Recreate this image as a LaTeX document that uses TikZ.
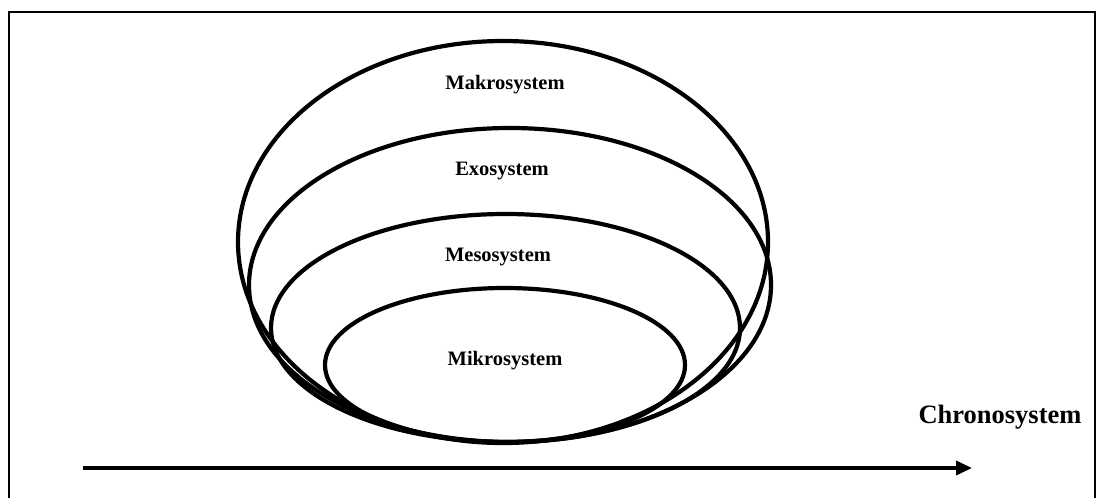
\documentclass[tikz,border=0pt]{standalone}
\usepackage{fontspec}
\setmainfont{Liberation Serif}
\usetikzlibrary{arrows.meta}
\begin{document}
\begin{tikzpicture}[x=1pt,y=-1pt,
  ring/.style={draw=black,line width=4.2pt},
  lbl/.style={font=\fontsize{20.5}{24}\selectfont\bfseries,inner sep=0pt},
  frame/.style={draw=black,line width=2.2pt}]
\useasboundingbox (0,0) rectangle (1099,498);
\fill[white] (0,0) rectangle (1099,498);
\draw[frame] (9,498) -- (9,12) -- (1095,12) -- (1095,498);
% ellipses
\draw[ring] (503,242) ellipse [x radius=265,y radius=201];
\draw[ring] (510,285) ellipse [x radius=261,y radius=157];
\draw[ring] (505.5,328) ellipse [x radius=234.5,y radius=114];
\draw[ring] (505,365) ellipse [x radius=180,y radius=77];
% labels
\node[lbl] (makro) at (505,85) {Makrosystem};
\node[lbl] (exo) at (502,171) {Exosystem};
\node[lbl] (meso) at (498,257) {Mesosystem};
\node[lbl] (mikro) at (505,361) {Mikrosystem};
\node[font=\fontsize{26.5}{30}\selectfont\bfseries,inner sep=0pt] (chrono) at (1000,417) {Chronosystem};
% arrow
\coordinate (a0) at (83,468);
\coordinate (a1) at (972,468);
\draw[line width=3.6pt,-{Triangle[length=16pt,width=14pt]}] (a0) -- (a1);
\end{tikzpicture}
\end{document}
